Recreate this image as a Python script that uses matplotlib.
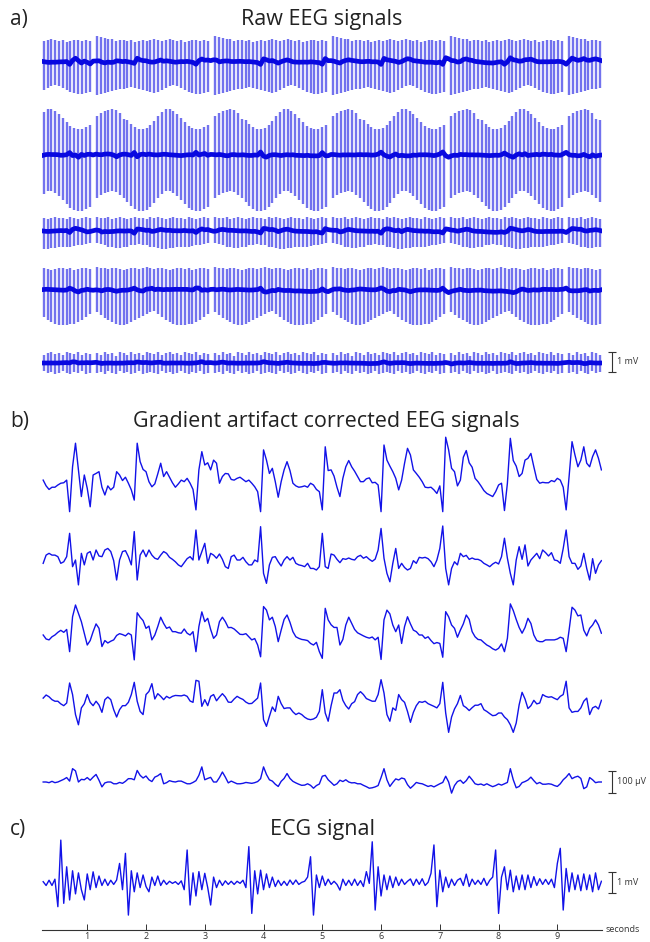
import numpy as np
import matplotlib.pyplot as plt

plt.rcParams['font.family'] = ['Open Sans', 'DejaVu Sans']

W, H = 650, 942

# ---- corrected EEG (uV), 5 channels, sampled every 50 ms from 0.25 s ----
t_start = 0.25
t_step = 0.05

eeg_1 = [22, -4, -20, -10, -10, 0, 8, 10, 22, -120,
         82, 188, 68, -52, 45, -15, -98, 45, 52, 60,
         -10, -45, -4, -22, -10, 60, 45, 20, 35, 8,
         -22, -68, 188, 105, 70, 60, 15, -8, 5, 50,
         98, 38, 60, 35, 10, -10, 5, 22, 15, 30,
         8, -20, -112, 68, 150, 90, 100, 68, 112, 98,
         8, 38, 52, 50, 25, 22, 30, 35, 25, 15,
         22, 8, -8, -30, -120, 158, 112, 52, 75, 15,
         -55, 15, 68, 105, 65, 8, -4, -10, -8, -4,
         -10, 8, 0, -20, -30, -112, 172, 65, 68, 40,
         -10, -52, 30, 82, 110, 82, 62, 38, 15, 15,
         28, 32, 10, 12, 0, -120, 180, 112, 85, 60,
         30, -22, 22, 98, 165, 135, 68, 52, 35, 15,
         -10, -12, -10, -22, -38, -4, -120, 215, 158, 75,
         60, -4, 22, 125, 155, 100, 80, 30, 15, -4,
         -25, -38, -45, -52, -30, 0, 8, -115, 8, 210,
         110, 85, 38, 52, 112, 120, 142, 82, 25, 8,
         12, 10, 10, 20, 15, 30, 22, -10, -112, 38,
         195, 135, 82, 112, 172, 98, 82, 128, 158, 120, 68]

eeg_2 = [-15, 22, 30, 22, 22, 15, -15, -8, 15, 120,
         -30, 0, -112, 30, -22, 30, 38, 0, 45, 18,
         15, 45, 52, 38, -3, -90, 0, 38, 42, 15,
         -22, 128, -90, 22, 45, 15, 45, 22, 8, 3,
         22, 38, 30, 12, 3, -8, -22, -30, -12, 6,
         15, 0, 135, 0, 38, 75, -15, 30, 22, 8,
         27, 3, -30, -38, 15, 22, 0, 0, 12, -8,
         -22, -22, 0, -8, 150, -60, -105, -22, 12, 15,
         -8, -27, 0, 15, 0, 12, -15, -22, -25, -30,
         -15, -38, -38, -45, -30, 120, -30, -38, 27, 22,
         3, -12, 6, 3, 9, 3, 0, 15, 21, 8,
         15, 3, -6, 4, 45, 142, 8, -60, -98, -15,
         52, -38, -15, -34, -45, -38, -3, -15, 12, 9,
         12, 6, -8, -30, 0, 52, 153, -38, -112, -38,
         -8, -22, 30, 15, 21, 3, 9, 3, 3, -3,
         -15, -22, -30, -18, -10, -18, 15, 98, 8, -60,
         -112, 0, 60, 3, 68, -27, 0, 15, 30, 6,
         45, 33, 18, 33, 0, -3, -15, 52, 135, 15,
         -15, -15, -42, -27, 30, -38, -90, 6, -60, -22, -3]

eeg_3 = [0, -18, -22, -8, 0, 12, 21, 12, 25, -75,
         82, 135, 98, 60, 8, -45, -25, 15, 50, 30,
         -52, -25, -36, -28, -22, -2, 6, 2, -4, 8,
         0, -112, 100, 80, 65, 30, 40, -22, 0, 38,
         80, 52, 30, 36, 15, 15, 10, 8, 27, 8,
         0, 15, -75, 38, 104, 60, 75, 25, -15, 0,
         60, 80, 60, 33, 34, 27, 15, 3, 2, 6,
         -8, -22, -16, -45, -98, 128, 112, 68, 80, 38,
         -30, 22, 70, 90, 57, 15, -8, -15, -20, -22,
         -25, -38, -45, -33, -75, -105, 120, 68, 46, 34,
         34, -45, -20, 45, 80, 52, 25, 10, 3, -4,
         -10, -14, -9, -22, -10, -110, 68, 112, 95, 45,
         15, 45, -38, 38, 82, 50, 22, 15, 0, 0,
         -15, -8, -25, -39, -34, -38, -100, 105, 82, 45,
         30, -10, 22, 50, 90, 70, 15, -8, -20, -22,
         -34, -45, -52, -62, -68, -60, -40, -75, -15, 140,
         110, 70, 34, 8, 34, 75, 52, 0, -25, -30,
         -30, -22, -22, -22, -22, -18, -10, -15, -75, 22,
         125, 112, 86, 90, 22, -4, 30, 45, 68, 45, 8]

eeg_4 = [22, 36, 28, 15, 8, 8, -4, -12, 0, 90,
         38, -52, -98, -22, -3, 38, 3, -12, 8, -9,
         -42, 15, 27, 15, -30, -63, -30, -12, -12, 3,
         38, 93, 8, -38, -52, 38, 52, 87, 18, 42,
         30, 15, 30, 22, 30, 34, 33, 32, 36, 30,
         9, 3, 102, 98, -15, 15, -12, 30, 38, 10,
         27, 42, 27, 4, 3, 18, 30, 22, 16, 4,
         -3, -2, 10, 22, 90, -75, -105, -60, -18, -38,
         30, -3, -25, -22, -22, -40, -52, -45, -52, -64,
         -72, -75, -72, -64, -38, 60, -45, -82, -12, 45,
         45, 60, 12, -12, -27, -3, 6, 38, 51, 38,
         20, 14, 8, 8, 38, 105, 45, -52, -82, -22,
         -33, 38, 15, 3, -38, -87, -42, -12, 6, 3,
         8, -3, -9, -15, -22, -3, 93, -45, -132, -63,
         -27, -3, 34, -12, -21, -34, -21, -10, -10, -3,
         -30, -38, -48, -57, -55, -45, -45, -63, -75, -98,
         -132, -90, -8, 48, 18, -25, -12, 12, -4, 0,
         38, 30, 26, 28, 21, 15, 30, 38, 98, -22,
         -42, -38, -38, -22, 8, 22, -52, -22, -15, -27, 12]

eeg_5 = [0, 0, -3, 3, -3, 0, 6, 12, 20, 4,
         60, 50, 0, 12, 10, 20, 8, 22, 34, 8,
         -22, -4, 0, 0, -8, -8, -2, -6, 3, 15,
         15, 10, 52, 30, 18, 27, 10, 2, 22, 28,
         38, -8, -3, 6, 2, 0, 4, 4, -2, -8,
         -8, -2, 6, 30, 68, 10, 16, 21, 0, 0,
         20, 45, 22, -4, 4, -2, -8, -8, -6, -2,
         -4, -6, -3, 2, 15, 68, 34, 10, 4, -10,
         -20, 3, 16, 38, 16, 3, -4, -10, -15, -14,
         -8, -15, -28, -16, -9, 26, 30, 10, -2, -15,
         -8, 8, 2, 10, 0, -4, -3, -8, -8, -15,
         -21, -28, -26, -22, -16, 20, 60, 10, -20, -2,
         14, 9, 18, 14, -12, -28, -16, -2, -6, -8,
         -14, -20, -16, -22, -15, -8, -2, 26, 0, -50,
         -16, 2, 8, -6, 6, 26, 10, -8, -12, -9,
         -15, -8, -15, -21, -16, -9, -14, -8, -2, 60,
         10, -26, -20, -3, 2, 9, 22, 6, -8, -2,
         -10, -10, -8, -10, -16, -20, -8, 10, 22, 38,
         15, 22, 26, 16, -30, -22, 20, 10, -3, 0, 0]

# ---- ECG (mV), same sampling ----
ecg = [0.08, -0.1, 0.15, -0.1, 0.2, -1.11, 2.06, -0.95, 0.79, -0.79,
       0.6, -0.5, 0.5, -0.3, -0.79, 0.45, -0.3, 0.55, -0.2, 0.35,
       -0.1, 0.2, -0.1, 0.15, -0.05, 0.16, 0.95, -0.3, 1.43, -1.51,
       0.6, -0.4, 0.5, -0.2, 0.4, -0.15, -0.4, 0.3, -0.1, 0.35,
       -0.1, 0.15, -0.05, 0.1, 0, 0.08, -0.05, 0.12, -0.3, 1.59,
       -1.03, 0.5, -0.6, 0.56, -0.3, 0.48, -0.2, -1.03, 0.3, -0.2,
       0.15, -0.1, 0.12, -0.05, 0.1, -0.05, 0.1, 0.0, 0.15, -0.2,
       1.75, -1.43, 0.6, -0.5, 0.63, -0.3, 0.45, -0.2, 0.3, -0.15,
       0.15, -0.1, 0.1, -0.1, 0.16, -0.05, 0.16, -0.05, 0.05, 0.1,
       0.3, 1.27, -1.51, 0.4, -0.2, 0.35, -0.1, 0.2, -0.05, 0.1,
       -0.05, -0.32, 0.2, -0.1, 0.15, -0.1, 0.2, -0.1, 0.13, -0.15,
       0.56, 0.0, 1.98, -1.27, 0.79, -0.6, 0.4, -0.3, 0.35, -0.2,
       0.3, -0.1, 0.2, -0.05, 0.1, 0.21, -0.1, 0.2, -0.05, 0.22,
       -0.1, 0.05, 0.48, 1.83, -1.11, 0.63, -0.4, 0.3, -0.2, 0.2,
       -0.1, 0.15, 0.24, -0.1, 0.44, -0.15, 0.2, -0.05, 0.15, -0.05,
       0.24, -0.1, 0.15, 0.3, 1.59, -1.43, 0.3, 0.79, -0.3, 0.63,
       -0.4, 0.35, -0.3, 0.4, -0.3, 0.4, -0.2, 0.32, -0.1, 0.22,
       -0.05, 0.19, -0.05, 0.2, -0.2, 0.95, 1.67, -1.27, 0.71, -0.4,
       0.5, -0.3, 0.4, -0.35, 0.45, -0.3, 0.4, -0.4, 0.5, -0.3, 0.1]

# ---- gradient artifact: volume onsets (s), slice timing, per-slice extent (mV) ----
volume_onsets = [-0.845, 1.165, 3.175, 5.185, 7.195, 9.205]
slice_interval = 0.065
n_slices = 30

raw_top_1 = [1.3, 1.25, 1.2, 1.15, 1.15, 1.05, 1.1, 1.1, 1.05, 1.1,
             1.0, 1.05, 1.1, 1.05, 1.1, 1.15, 1.1, 1.05, 1.1, 1.15,
             1.1, 1.05, 1.1, 1.0, 1.05, 1.1, 1.1, 1.05, 1.1, 1.05]
raw_bot_1 = [-1.65, -1.6, -1.55, -1.5, -1.45, -1.4, -1.35, -1.35, -1.3, -1.25,
             -1.3, -1.35, -1.4, -1.45, -1.5, -1.55, -1.5, -1.4, -1.3, -1.2,
             -1.15, -1.2, -1.3, -1.4, -1.5, -1.55, -1.6, -1.6, -1.55, -1.5]
raw_top_2 = [1.95, 2.1, 2.2, 2.25, 2.3, 2.25, 2.1, 1.8, 1.75, 1.55,
             1.4, 1.3, 1.3, 1.35, 1.5, 1.7, 1.95, 2.15, 2.3, 2.3,
             2.2, 2.05, 1.85, 1.65, 1.45, 1.35, 1.3, 1.3, 1.4, 1.5]
raw_bot_2 = [-2.15, -2.0, -1.9, -1.85, -1.8, -1.85, -2.0, -2.15, -2.35, -2.55,
             -2.7, -2.8, -2.8, -2.75, -2.6, -2.4, -2.15, -1.95, -1.8, -1.8,
             -1.9, -2.05, -2.25, -2.45, -2.65, -2.75, -2.8, -2.8, -2.7, -2.6]
raw_top_3 = [0.7, 0.65, 0.65, 0.7, 0.6, 0.65, 0.7, 0.65, 0.6, 0.65,
             0.7, 0.65, 0.65, 0.6, 0.7, 0.65, 0.7, 0.65, 0.6, 0.65,
             0.7, 0.65, 0.65, 0.6, 0.7, 0.65, 0.6, 0.65, 0.7, 0.65]
raw_bot_3 = [-0.6, -0.65, -0.72, -0.78, -0.82, -0.85, -0.85, -0.82, -0.78, -0.72,
             -0.68, -0.65, -0.68, -0.72, -0.78, -0.82, -0.85, -0.88, -0.88, -0.86,
             -0.84, -0.82, -0.8, -0.78, -0.78, -0.75, -0.72, -0.7, -0.66, -0.62]
raw_top_4 = [1.15, 1.1, 1.1, 1.05, 1.1, 1.1, 1.05, 1.0, 1.05, 1.1,
             1.1, 1.05, 1.1, 1.15, 1.1, 1.05, 1.1, 1.1, 1.05, 1.0,
             1.05, 1.1, 1.1, 1.05, 1.1, 1.0, 1.05, 1.1, 1.1, 1.05]
raw_bot_4 = [-1.1, -1.25, -1.4, -1.5, -1.6, -1.7, -1.75, -1.75, -1.7, -1.6,
             -1.5, -1.4, -1.3, -1.2, -1.1, -1.05, -1.2, -1.35, -1.5, -1.6,
             -1.7, -1.75, -1.75, -1.75, -1.7, -1.7, -1.6, -1.5, -1.35, -1.2]
raw_top_5 = [0.5, 0.4, 0.55, 0.45, 0.5, 0.35, 0.55, 0.5, 0.4, 0.55,
             0.45, 0.5, 0.4, 0.55, 0.5, 0.45, 0.55, 0.4, 0.5, 0.55,
             0.45, 0.5, 0.4, 0.55, 0.5, 0.45, 0.55, 0.4, 0.5, 0.45]
raw_bot_5 = [-0.5, -0.45, -0.55, -0.4, -0.5, -0.55, -0.4, -0.5, -0.45, -0.55,
             -0.5, -0.4, -0.55, -0.5, -0.45, -0.5, -0.55, -0.4, -0.5, -0.45,
             -0.55, -0.5, -0.4, -0.5, -0.55, -0.45, -0.5, -0.4, -0.55, -0.5]

eeg = [eeg_1, eeg_2, eeg_3, eeg_4, eeg_5]
raw_tops = [raw_top_1, raw_top_2, raw_top_3, raw_top_4, raw_top_5]
raw_bots = [raw_bot_1, raw_bot_2, raw_bot_3, raw_bot_4, raw_bot_5]

# channel baselines inside each panel
raw_offsets = [15.9, 11.25, 7.45, 4.5, 0.85]          # mV
eeg_offsets = [1417.5, 1080, 742.5, 436.5, 81]        # uV
ecg_offset = 2.22                                      # mV

t_lim = (0.23, 9.76)
BLUE = '#1212e8'
LIGHT = '#7272ee'
INK = '#222222'
GREY = '#333333'


def px_axes(fig, left, top, right, bottom):
    return fig.add_axes([left / W, 1 - bottom / H, (right - left) / W, (bottom - top) / H])


def scale_bar(ax, x, y0, length, label, cap=0.06):
    kw = dict(color=GREY, lw=0.8, clip_on=False, solid_capstyle='butt')
    ax.plot([x, x], [y0, y0 + length], **kw)
    ax.plot([x - cap, x + cap], [y0, y0], **kw)
    ax.plot([x - cap, x + cap], [y0 + length, y0 + length], **kw)
    ax.text(x + 0.09, y0 + length / 2, label, fontsize=6.5, va='center', ha='left',
            color=GREY, clip_on=False)


fig = plt.figure(figsize=(W / 100, H / 100), dpi=100)

# slice times and their slice index in the volume
spike_t, spike_j = [], []
for onset in volume_onsets:
    for j in range(n_slices):
        ts = onset + j * slice_interval
        if t_lim[0] <= ts <= t_lim[1]:
            spike_t.append(ts)
            spike_j.append(j)
spike_t = np.array(spike_t)
spike_j = np.array(spike_j)

# a) raw EEG
ax_a = px_axes(fig, 42, 30, 602, 380)
for k in range(5):
    top = np.array(raw_tops[k])[spike_j]
    bot = np.array(raw_bots[k])[spike_j]
    ax_a.vlines(spike_t, raw_offsets[k] + bot, raw_offsets[k] + top, colors=LIGHT, lw=1.7)
    tt = t_start + t_step * np.arange(len(eeg[k]))
    ax_a.plot(tt, raw_offsets[k] + np.array(eeg[k]) / 1000.0, color='#0808e0', lw=3.4)
ax_a.set_xlim(*t_lim)
ax_a.set_ylim(0, 17.5)
ax_a.axis('off')
scale_bar(ax_a, 9.93, 0.4, 1.0, '1 mV')

# b) corrected EEG
ax_b = px_axes(fig, 42, 435, 602, 800)
for k in range(5):
    tt = t_start + t_step * np.arange(len(eeg[k]))
    ax_b.plot(tt, eeg_offsets[k] + np.array(eeg[k]), color=BLUE, lw=1.0)
ax_b.set_xlim(*t_lim)
ax_b.set_ylim(0, 1642.5)
ax_b.axis('off')
scale_bar(ax_b, 9.93, 31.5, 100, '100 µV')

# c) ECG
ax_c = px_axes(fig, 42, 820, 602, 930)
tt = t_start + t_step * np.arange(len(ecg))
ax_c.plot(tt, ecg_offset + np.array(ecg), color=BLUE, lw=1.0)
ax_c.set_xlim(*t_lim)
ax_c.set_ylim(0, 110 / 21)
for s in ['left', 'top', 'right']:
    ax_c.spines[s].set_visible(False)
ax_c.spines['bottom'].set_color(GREY)
ax_c.spines['bottom'].set_linewidth(0.8)
ax_c.set_yticks([])
ax_c.set_xticks(range(1, 10))
ax_c.tick_params(axis='x', direction='in', length=4, width=0.7, colors=GREY,
                 labelsize=6.5, pad=1.5)
ax_c.patch.set_alpha(0)
scale_bar(ax_c, 9.93, 1.76, 1.0, '1 mV')
ax_c.text(9.82, 0, 'seconds', fontsize=6.5, va='center', ha='left', color=GREY,
          clip_on=False)

# panel titles
fig.text(10 / W, 1 - 19 / H, 'a)', fontsize=15, color=INK, va='center', ha='left')
fig.text(322 / W, 1 - 19 / H, 'Raw EEG signals', fontsize=15.5, color=INK, va='center', ha='center')
fig.text(10 / W, 1 - 421 / H, 'b)', fontsize=15, color=INK, va='center', ha='left')
fig.text(326 / W, 1 - 421 / H, 'Gradient artifact corrected EEG signals', fontsize=15.5,
         color=INK, va='center', ha='center')
fig.text(10 / W, 1 - 829 / H, 'c)', fontsize=15, color=INK, va='center', ha='left')
fig.text(322 / W, 1 - 830 / H, 'ECG signal', fontsize=15.5, color=INK, va='center', ha='center')

fig.savefig('out.png', dpi=100)
